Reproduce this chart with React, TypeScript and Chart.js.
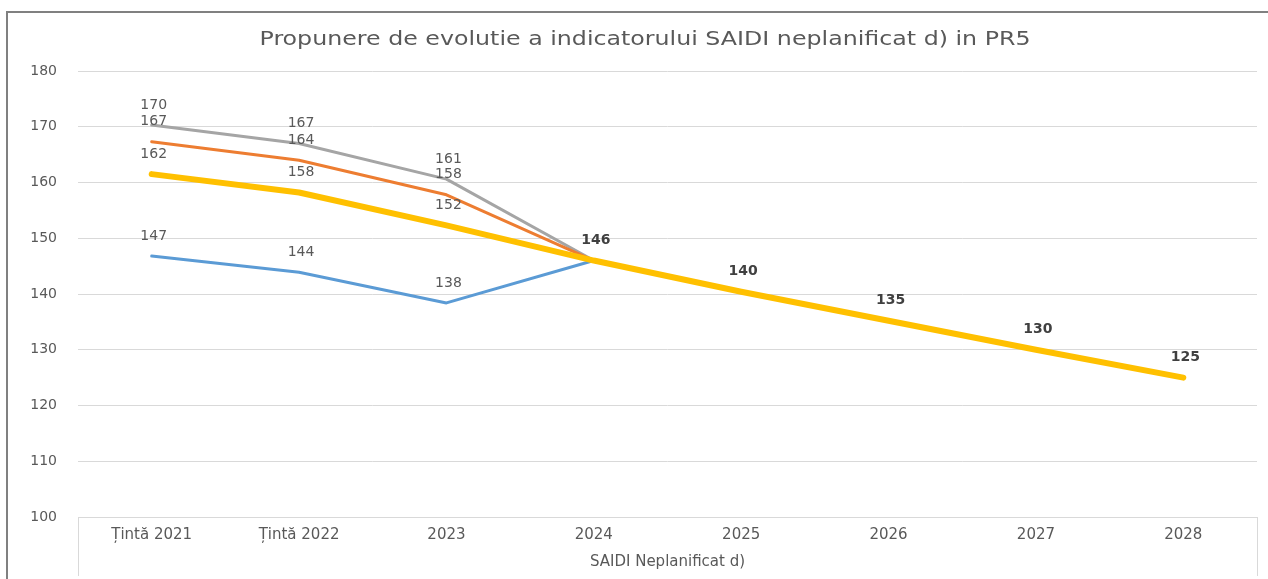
import React, { useEffect, useRef } from "react";
import { Chart, registerables } from "chart.js";

Chart.register(...registerables);

const categories = ["Țintă 2021", "Țintă 2022", "2023", "2024", "2025", "2026", "2027", "2028"];
const seriesBlue = [146.8, 143.9, 138.4, 146, null, null, null, null];
const seriesOrange = [167.3, 164.0, 157.8, 146, null, null, null, null];
const seriesGray = [170.3, 167.0, 160.6, 146, null, null, null, null];
const seriesYellow = [161.5, 158.2, 152.3, 146, 140.4, 135.2, 130, 125];
const yTicks = [100, 110, 120, 130, 140, 150, 160, 170, 180];

const titleText = "Propunere de evolutie a indicatorului SAIDI neplanificat d) in PR5";
const axisTitleText = "SAIDI Neplanificat d)";
const FONT = "'DejaVu Sans', 'Open Sans', sans-serif";

export default function App() {
  const ref = useRef<HTMLCanvasElement | null>(null);

  useEffect(() => {
    document.body.style.margin = "0";
    const canvas = ref.current!;
    const labelPlugin = {
      id: "customLabels",
      afterDatasetsDraw(chart: any) {
        const ctx = chart.ctx;
        ctx.save();
        ctx.textAlign = "center";
        ctx.textBaseline = "middle";
        chart.data.datasets.forEach((ds: any, di: number) => {
          const meta = chart.getDatasetMeta(di);
          ds.data.forEach((v: number | null, i: number) => {
            if (v == null) return;
            const isYellow = ds.label === "Propunere";
            if (i >= 3 && !isYellow) return;
            const pt = meta.data[i];
            const bold = isYellow && i >= 3;
            ctx.font = `${bold ? "bold " : ""}14px ${FONT}`;
            ctx.fillStyle = bold ? "#404040" : "#595959";
            ctx.fillText(String(Math.round(v)), pt.x + 2, pt.y - 20);
          });
        });
        ctx.restore();
      },
      afterDraw(chart: any) {
        const ctx = chart.ctx;
        const a = chart.chartArea;
        ctx.save();
        ctx.strokeStyle = "#d9d9d9";
        ctx.lineWidth = 1;
        ctx.beginPath();
        ctx.moveTo(Math.round(a.left) + 0.5, a.bottom);
        ctx.lineTo(Math.round(a.left) + 0.5, 576);
        ctx.moveTo(Math.round(a.right) + 0.5, a.bottom);
        ctx.lineTo(Math.round(a.right) + 0.5, 576);
        ctx.stroke();
        ctx.font = `20px ${FONT}`;
        ctx.fillStyle = "#595959";
        ctx.textAlign = "center";
        ctx.textBaseline = "middle";
        const w = ctx.measureText(titleText).width;
        const sx = 771 / w;
        ctx.translate(645, 40);
        ctx.scale(sx, 1);
        ctx.fillText(titleText, 0, 0);
        ctx.restore();
      },
    };

    const chart = new Chart(canvas, {
      type: "line",
      data: {
        labels: categories,
        datasets: [
          { label: "Propunere", data: seriesYellow, borderColor: "#FFC000", borderWidth: 6, order: 0 },
          { label: "Albastru", data: seriesBlue, borderColor: "#5B9BD5", borderWidth: 3, order: 1 },
          { label: "Portocaliu", data: seriesOrange, borderColor: "#ED7D31", borderWidth: 3, order: 2 },
          { label: "Gri", data: seriesGray, borderColor: "#A5A5A5", borderWidth: 3, order: 3 },
        ].map((d) => ({ ...d, pointRadius: 0, tension: 0, fill: false, spanGaps: false, borderCapStyle: "round", borderJoinStyle: "round" })) as any,
      },
      options: {
        animation: false,
        responsive: false,
        maintainAspectRatio: false,
        layout: { padding: { left: 0, right: 11, top: 71, bottom: 0 } },
        plugins: { legend: { display: false }, tooltip: { enabled: false }, title: { display: false } },
        scales: {
          x: {
            offset: true,
            grid: { display: false, drawTicks: false },
            border: { display: true, color: "#d9d9d9" },
            ticks: { color: "#595959", font: { family: FONT, size: 15 }, padding: 9, maxRotation: 0, autoSkip: false },
            title: { display: true, text: axisTitleText, color: "#595959", font: { family: FONT, size: 15 }, padding: { top: 0, bottom: 8 } },
            afterFit: (s: any) => { s.height = 62; },
          },
          y: {
            min: 100,
            max: 180,
            afterBuildTicks: (s: any) => { s.ticks = yTicks.map((v) => ({ value: v })); },
            grid: { color: "#d9d9d9", lineWidth: 1, drawTicks: false },
            border: { display: false },
            ticks: { color: "#595959", font: { family: FONT, size: 14 }, padding: 21 },
            afterFit: (s: any) => { s.width = 78; },
          },
        },
      },
      plugins: [labelPlugin],
    });
    return () => chart.destroy();
  }, []);

  return (
    <div style={{ position: "fixed", left: 0, top: 0, width: 1268, height: 579, background: "#fff", overflow: "hidden" }}>
      <div style={{ position: "absolute", left: 6, top: 11, width: 1400, height: 700, borderTop: "2px solid #808080", borderLeft: "2px solid #808080" }} />
      <canvas ref={ref} width={1268} height={579} style={{ position: "absolute", left: 0, top: 0 }} />
    </div>
  );
}
